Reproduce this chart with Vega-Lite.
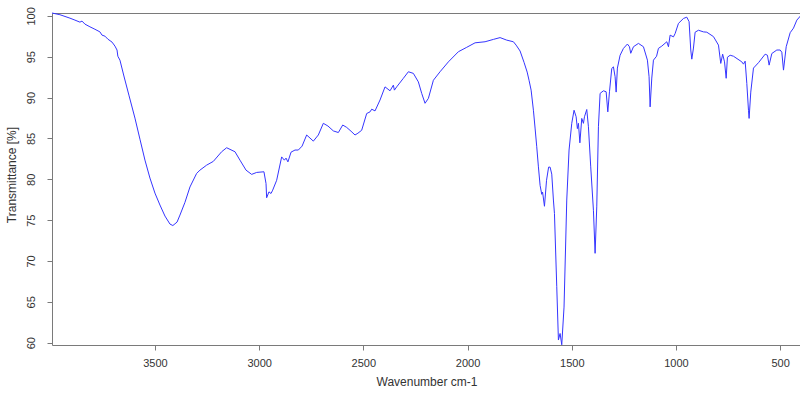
{
  "$schema": "https://vega.github.io/schema/vega-lite/v6.json",
  "autosize": {"type": "none"},
  "padding": {"left": 52, "top": 13, "right": 0, "bottom": 57},
  "width": 749,
  "height": 332,
  "background": "white",
  "config": {"view": {"stroke": "#7a7a7a", "strokeWidth": 1}},
  "data": {"values": [
    {"w":3994,"t":100.35},{"w":3956,"t":100.14},{"w":3908,"t":99.72},{"w":3884,"t":99.48},{"w":3860,"t":99.23},{"w":3850,"t":99.36},{"w":3836,"t":98.99},{"w":3812,"t":98.66},{"w":3788,"t":98.36},{"w":3764,"t":98.04},{"w":3754,"t":97.64},{"w":3740,"t":97.52},{"w":3726,"t":97.15},{"w":3706,"t":96.79},{"w":3692,"t":96.3},{"w":3682,"t":95.82},{"w":3678,"t":95.06},{"w":3668,"t":94.58},{"w":3649,"t":92.64},{"w":3625,"t":90.3},{"w":3596,"t":87.49},{"w":3572,"t":84.91},{"w":3548,"t":82.35},{"w":3524,"t":80.15},{"w":3500,"t":78.31},{"w":3476,"t":76.85},{"w":3452,"t":75.5},{"w":3428,"t":74.52},{"w":3414,"t":74.34},{"w":3394,"t":74.76},{"w":3380,"t":75.62},{"w":3356,"t":77.18},{"w":3332,"t":79.06},{"w":3300,"t":80.72},{"w":3284,"t":81.12},{"w":3252,"t":81.73},{"w":3220,"t":82.19},{"w":3180,"t":83.37},{"w":3156,"t":83.86},{"w":3116,"t":83.37},{"w":3092,"t":82.34},{"w":3063,"t":81.12},{"w":3036,"t":80.6},{"w":3012,"t":80.84},{"w":2977,"t":80.92},{"w":2967,"t":79.48},{"w":2964,"t":77.74},{"w":2953,"t":78.46},{"w":2943,"t":78.26},{"w":2935,"t":78.67},{"w":2916,"t":79.88},{"w":2892,"t":82.74},{"w":2879,"t":82.34},{"w":2871,"t":82.59},{"w":2862,"t":82.13},{"w":2847,"t":83.32},{"w":2828,"t":83.58},{"w":2812,"t":83.58},{"w":2794,"t":84.06},{"w":2772,"t":85.42},{"w":2740,"t":84.67},{"w":2716,"t":85.42},{"w":2692,"t":86.85},{"w":2670,"t":86.52},{"w":2644,"t":85.92},{"w":2620,"t":85.72},{"w":2599,"t":86.64},{"w":2580,"t":86.35},{"w":2559,"t":85.88},{"w":2540,"t":85.42},{"w":2526,"t":85.64},{"w":2508,"t":86.0},{"w":2484,"t":88.05},{"w":2468,"t":88.25},{"w":2460,"t":88.58},{"w":2444,"t":88.37},{"w":2420,"t":89.7},{"w":2396,"t":91.31},{"w":2372,"t":90.83},{"w":2356,"t":91.52},{"w":2351,"t":90.91},{"w":2340,"t":91.31},{"w":2308,"t":92.36},{"w":2284,"t":93.16},{"w":2260,"t":92.96},{"w":2236,"t":91.92},{"w":2220,"t":90.51},{"w":2204,"t":89.3},{"w":2188,"t":89.9},{"w":2164,"t":92.12},{"w":2132,"t":93.16},{"w":2092,"t":94.37},{"w":2044,"t":95.61},{"w":2004,"t":96.15},{"w":1964,"t":96.7},{"w":1916,"t":96.83},{"w":1876,"t":97.12},{"w":1844,"t":97.34},{"w":1812,"t":97.03},{"w":1780,"t":96.83},{"w":1767,"t":96.42},{"w":1748,"t":95.7},{"w":1729,"t":94.31},{"w":1714,"t":93.12},{"w":1705,"t":92.12},{"w":1695,"t":90.91},{"w":1684,"t":88.45},{"w":1676,"t":86.27},{"w":1668,"t":83.98},{"w":1660,"t":81.52},{"w":1652,"t":79.26},{"w":1644,"t":78.16},{"w":1640,"t":78.43},{"w":1631,"t":76.7},{"w":1621,"t":79.88},{"w":1611,"t":81.49},{"w":1604,"t":81.49},{"w":1596,"t":80.63},{"w":1588,"t":77.46},{"w":1583,"t":75.81},{"w":1572,"t":66.85},{"w":1564,"t":60.33},{"w":1556,"t":61.13},{"w":1548,"t":59.75},{"w":1537,"t":64.36},{"w":1524,"t":77.46},{"w":1513,"t":83.58},{"w":1500,"t":86.85},{"w":1489,"t":88.45},{"w":1479,"t":87.65},{"w":1473,"t":86.2},{"w":1468,"t":86.85},{"w":1461,"t":84.46},{"w":1452,"t":87.45},{"w":1444,"t":86.85},{"w":1439,"t":87.65},{"w":1428,"t":88.54},{"w":1420,"t":86.43},{"w":1409,"t":81.52},{"w":1396,"t":76.21},{"w":1388,"t":70.94},{"w":1380,"t":76.62},{"w":1372,"t":86.43},{"w":1364,"t":90.51},{"w":1348,"t":90.83},{"w":1335,"t":90.71},{"w":1327,"t":88.25},{"w":1319,"t":90.71},{"w":1308,"t":93.57},{"w":1300,"t":93.76},{"w":1292,"t":92.55},{"w":1287,"t":90.67},{"w":1281,"t":93.61},{"w":1268,"t":95.18},{"w":1252,"t":96.02},{"w":1233,"t":96.55},{"w":1223,"t":96.22},{"w":1217,"t":95.42},{"w":1204,"t":96.22},{"w":1180,"t":96.63},{"w":1156,"t":96.22},{"w":1137,"t":94.58},{"w":1129,"t":92.55},{"w":1124,"t":88.86},{"w":1116,"t":92.39},{"w":1108,"t":94.58},{"w":1093,"t":95.06},{"w":1084,"t":96.02},{"w":1068,"t":96.3},{"w":1044,"t":96.83},{"w":1036,"t":96.22},{"w":1028,"t":97.64},{"w":1012,"t":97.43},{"w":1004,"t":97.84},{"w":988,"t":99.08},{"w":964,"t":99.68},{"w":948,"t":99.84},{"w":937,"t":99.29},{"w":929,"t":95.82},{"w":924,"t":94.7},{"w":916,"t":96.06},{"w":908,"t":98.0},{"w":892,"t":98.24},{"w":868,"t":98.04},{"w":852,"t":98.0},{"w":820,"t":97.46},{"w":796,"t":96.42},{"w":785,"t":94.18},{"w":776,"t":95.31},{"w":767,"t":94.37},{"w":759,"t":92.36},{"w":753,"t":94.94},{"w":740,"t":95.18},{"w":724,"t":95.06},{"w":684,"t":94.37},{"w":676,"t":94.09},{"w":668,"t":94.46},{"w":660,"t":91.72},{"w":652,"t":88.45},{"w":649,"t":87.45},{"w":641,"t":90.67},{"w":628,"t":93.61},{"w":604,"t":94.27},{"w":572,"t":95.31},{"w":561,"t":95.18},{"w":553,"t":93.97},{"w":540,"t":95.39},{"w":516,"t":95.82},{"w":500,"t":95.82},{"w":492,"t":95.55},{"w":484,"t":93.36},{"w":471,"t":96.22},{"w":452,"t":97.94},{"w":436,"t":98.5},{"w":420,"t":99.48},{"w":400,"t":100.06}
  ]},
  "mark": {"type": "line", "color": "#3535ff", "strokeWidth": 1, "clip": false},
  "encoding": {
    "x": {
      "field": "w", "type": "quantitative",
      "scale": {"domain": [3994, 400], "nice": false, "zero": false},
      "axis": {
        "title": "Wavenumber cm-1",
        "values": [3500, 3000, 2500, 2000, 1500, 1000, 500],
        "format": "d",
        "domain": false, "grid": false,
        "tickSize": 5, "tickColor": "#7a7a7a", "tickWidth": 1,
        "labelFont": "Liberation Sans", "labelFontSize": 11, "labelColor": "#333333",
        "labelBaseline": "alphabetic", "labelPadding": 16.5, "labelFlush": false,
        "titleFont": "Liberation Sans", "titleFontSize": 12, "titleFontWeight": "normal", "titleColor": "#333333",
        "titleBaseline": "alphabetic", "titleY": 40
      }
    },
    "y": {
      "field": "t", "type": "quantitative",
      "scale": {"domain": [59.72, 100.35], "nice": false, "zero": false},
      "axis": {
        "title": "Transmittance [%]",
        "values": [60, 65, 70, 75, 80, 85, 90, 95, 100],
        "format": "d",
        "domain": false, "grid": false,
        "tickSize": 5, "tickColor": "#7a7a7a", "tickWidth": 1,
        "labelFont": "Liberation Sans", "labelFontSize": 11, "labelColor": "#333333",
        "labelAngle": 270, "labelAlign": "center", "labelBaseline": "alphabetic", "labelPadding": 13,
        "titleFont": "Liberation Sans", "titleFontSize": 12, "titleFontWeight": "normal", "titleColor": "#333333",
        "titleAngle": 270, "titleAlign": "center", "titleBaseline": "alphabetic", "titleX": -37, "titleY": 161.5
      }
    }
  }
}
